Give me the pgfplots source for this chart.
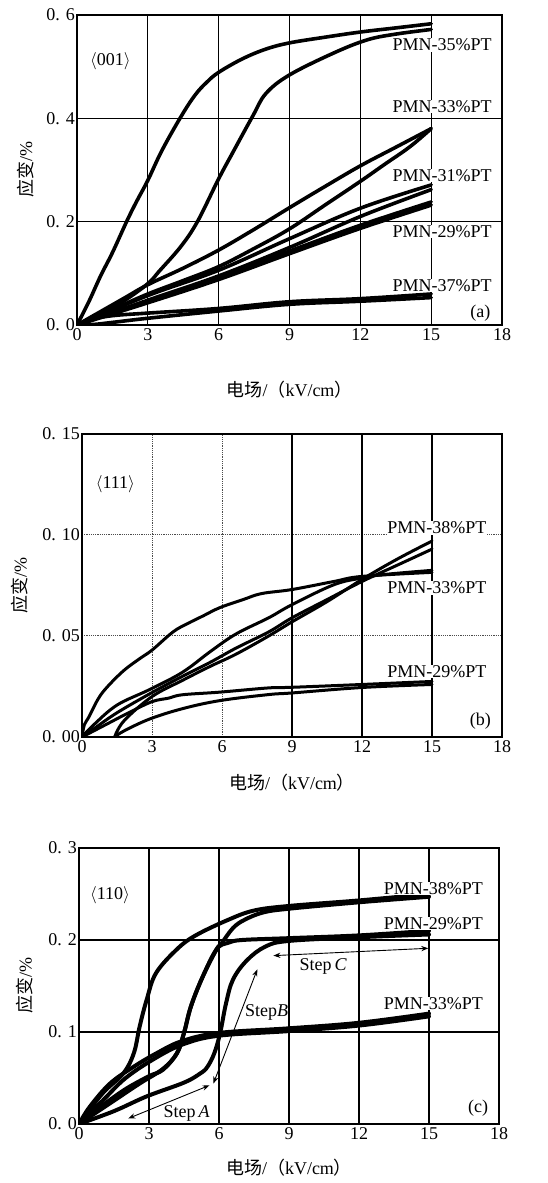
\documentclass[border=0pt]{standalone}
\usepackage{fontspec}
\setmainfont{Liberation Serif}
\newfontfamily\cjk{Noto Sans CJK SC}
\usepackage{pgfplots}
\pgfplotsset{compat=1.18}
\usetikzlibrary{arrows.meta}

\pgfplotsset{
  panel/.style={
    scale only axis,
    xmin=0, xmax=18,
    xtick={0,3,...,18}, xticklabels={0,3,6,9,12,15,18},
    axis line style={line width=1.5pt},
    major tick length=0pt,
    xmajorgrids, ymajorgrids,
    grid style={black, line width=1.2pt},
    tick label style={font=\fontsize{18}{18}\selectfont},
    xticklabel style={inner sep=1pt, yshift=-2pt},
    yticklabel style={inner sep=2pt},
    label style={font=\fontsize{18}{18}\selectfont},
    xlabel={{\cjk 电场}/{\cjk （}kV/cm{\cjk ）}},
    ylabel={{\cjk 应变}/\%},
    cycle list={{black}},
    every axis plot post/.append style={black, solid, mark=none, line width=\plotlw, line join=round, line cap=round, smooth, tension=0.6},
  },
}
\tikzset{
  lab/.style={font=\fontsize{18}{18}\selectfont, fill=white, inner sep=0.5pt},
  plain/.style={font=\fontsize{18}{18}\selectfont, inner sep=0pt},
}
\newcommand{\plotlw}{3pt}

\begin{document}
\begin{tikzpicture}
\useasboundingbox (0,0) rectangle (548pt,1183pt);

% (a) <001>
\renewcommand{\plotlw}{3.6pt}
\begin{axis}[panel,
  at={(77pt,858pt)}, anchor=south west,
  width=425pt, height=310pt,
  ymin=0, ymax=0.6,
  ytick={0,0.2,0.4,0.6}, yticklabels={0. 0,0. 2,0. 4,0. 6},
  xlabel style={at={(axis description cs:0.5,-0.21)}, anchor=center},
  ylabel style={at={(axis description cs:-0.122,0.5)}, anchor=center},
]
% PMN-35%PT
\addplot coordinates {(0,0) (0.5,0.045) (1.0,0.095) (1.5,0.14) (2.1,0.2) (2.5,0.237) (3,0.28) (3.6,0.338) (4.4,0.403) (5.0,0.445) (5.5,0.47) (6,0.489) (7,0.515) (8,0.534) (9,0.546) (10.5,0.557) (12,0.567) (13.5,0.575) (15,0.583)};
\addplot coordinates {(15,0.572) (13.5,0.563) (12.3,0.552) (10.9,0.527) (9,0.484) (8,0.448) (7.45,0.405) (6.6,0.334) (6,0.283) (5.1,0.2) (4.4,0.152) (3.5,0.105) (3,0.08) (2,0.047) (1,0.021) (0,0)};
% PMN-33%PT
\addplot coordinates {(0,0) (1,0.026) (2,0.052) (3,0.078) (4.5,0.11) (6,0.145) (7.5,0.185) (9,0.227) (10.5,0.268) (12,0.308) (13.5,0.344) (15,0.38)};
\addplot coordinates {(15,0.38) (14.1,0.345) (13,0.31) (12,0.278) (10.5,0.232) (9,0.186) (7.5,0.148) (6,0.113) (4.5,0.086) (3,0.06) (1.5,0.03) (0,0)};
% PMN-31%PT
\addplot coordinates {(0,0) (3,0.057) (6,0.106) (9,0.167) (12,0.226) (15,0.271)};
\addplot coordinates {(15,0.262) (12,0.21) (9,0.15) (6,0.095) (3,0.048) (0,0)};
% PMN-29%PT
\addplot coordinates {(0,0) (3,0.046) (6,0.092) (9,0.143) (12,0.193) (15,0.238)};
\addplot coordinates {(15,0.232) (12,0.187) (9,0.138) (6,0.088) (3,0.043) (0,0)};
% PMN-37%PT
\addplot coordinates {(0,0) (0.5,0.01) (1.5,0.018) (3,0.023) (6,0.032) (9,0.045) (12,0.051) (15,0.06)};
\addplot coordinates {(15,0.053) (12,0.046) (9,0.04) (6,0.027) (3,0.013) (1.5,0.005) (0.7,0.001) (0,0)};
\node[lab] at (axis cs:15.46,0.542) {PMN-35\%PT};
\node[lab] at (axis cs:15.46,0.423) {PMN-33\%PT};
\node[lab] at (axis cs:15.46,0.29) {PMN-31\%PT};
\node[lab] at (axis cs:15.46,0.181) {PMN-29\%PT};
\node[lab] at (axis cs:15.46,0.077) {PMN-37\%PT};
\node[plain] at (axis cs:17.08,0.0226) {(a)};
\node[plain] at (axis cs:1.41,0.51) {$\langle$001$\rangle$};
\end{axis}

% (b) <111>
\renewcommand{\plotlw}{3pt}
\begin{axis}[panel,
  at={(82pt,446pt)}, anchor=south west,
  width=420pt, height=303pt,
  ymin=0, ymax=0.15,
  ytick={0,0.05,0.1,0.15}, yticklabels={0. 00,0. 05,0. 10,0. 15},
  grid style={black!70, densely dotted, line width=1pt},
  extra x ticks={9,12,15}, extra x tick labels={},
  extra x tick style={grid style={black, solid, line width=1.2pt}},
  xlabel style={at={(axis description cs:0.5,-0.152)}, anchor=center},
  ylabel style={at={(axis description cs:-0.148,0.5)}, anchor=center},
]
% PMN-38%PT
\addplot coordinates {(1.4,0) (1.8,0.008) (3,0.02) (4.3,0.028) (5.5,0.035) (6.6,0.041) (8,0.05) (9,0.057) (10.5,0.067) (12,0.078) (13.5,0.088) (15,0.097)};
\addplot coordinates {(15,0.093) (13.5,0.085) (12,0.077) (10.5,0.068) (9,0.059) (8,0.052) (6.6,0.044) (5.5,0.037) (4.3,0.030) (3,0.022) (1.5,0.012) (0.5,0.004) (0,0)};
% PMN-33%PT
\addplot coordinates {(0,0) (0.1,0.006) (0.3,0.01) (0.7,0.019) (1.1,0.025) (1.8,0.033) (2.5,0.039) (3,0.043) (3.9,0.052) (4.5,0.056) (5.2,0.06) (5.9,0.064) (6.9,0.068) (7.7,0.071) (9,0.073) (10.8,0.077) (12,0.0795) (15,0.0815)};
\addplot coordinates {(15,0.0825) (13,0.0805) (12,0.0787) (10.8,0.0754) (9,0.0655) (8,0.059) (6.6,0.051) (5.5,0.0423) (4.3,0.032) (2.9,0.0235) (1.5,0.0158) (0.5,0.006) (0,0)};
% PMN-29%PT
\addplot coordinates {(0,0) (1,0.006) (2,0.012) (3,0.0175) (3.7,0.0192) (4.3,0.0209) (5.9,0.0222) (8,0.0243) (9,0.0246) (12,0.026) (15,0.0275)};
\addplot coordinates {(15,0.026) (12,0.0245) (9,0.0218) (8,0.021) (5.9,0.018) (4.3,0.014) (2.9,0.0089) (1.8,0.003) (1.4,0)};
\node[lab] at (axis cs:15.21,0.1035) {PMN-38\%PT};
\node[lab] at (axis cs:15.21,0.0738) {PMN-33\%PT};
\node[lab] at (axis cs:15.21,0.0325) {PMN-29\%PT};
\node[plain] at (axis cs:17.07,0.0078) {(b)};
\node[plain] at (axis cs:1.43,0.125) {$\langle$111$\rangle$};
\end{axis}

% (c) <110>
\renewcommand{\plotlw}{4pt}
\begin{axis}[panel,
  at={(79pt,59pt)}, anchor=south west,
  width=420pt, height=276pt,
  ymin=0, ymax=0.3,
  ytick={0,0.1,0.2,0.3}, yticklabels={0. 0,0. 1,0. 2,0. 3},
  xlabel style={at={(axis description cs:0.5,-0.159)}, anchor=center},
  ylabel style={at={(axis description cs:-0.129,0.5)}, anchor=center},
]
% PMN-38%PT
\addplot coordinates {(0,0) (1,0.02) (2,0.038) (3,0.052) (3.6,0.059) (4.2,0.077) (4.5,0.099) (4.8,0.128) (5.3,0.16) (5.9,0.19) (6.1,0.196) (6.6,0.213) (7.1,0.222) (7.9,0.23) (9,0.234) (12,0.241) (15,0.247)};
\addplot coordinates {(15,0.25) (12,0.243) (9,0.237) (7.5,0.232) (6.4,0.222) (5,0.205) (4.2,0.19) (3.3,0.164) (2.9,0.135) (2.6,0.106) (2.35,0.077) (1.9,0.055) (1,0.033) (0,0)};
% PMN-29%PT
\addplot coordinates {(0,0) (1.5,0.014) (2.9,0.03) (4.5,0.045) (5.2,0.055) (5.5,0.062) (5.8,0.077) (6.05,0.099) (6.3,0.131) (6.6,0.157) (7.2,0.178) (8,0.193) (9,0.199) (12,0.203) (15,0.206)};
\addplot coordinates {(15,0.21) (12,0.205) (9,0.202) (7,0.2) (6.4,0.197) (5.9,0.19) (5.3,0.16) (4.8,0.128) (4.5,0.099) (4.2,0.077) (3.6,0.06) (2.6,0.044) (1.3,0.022) (0,0)};
% PMN-33%PT
\addplot coordinates {(0,0) (0.47,0.019) (1.33,0.044) (2.33,0.062) (3.33,0.077) (4.4,0.09) (6,0.099) (9,0.104) (12,0.11) (15,0.12)};
\addplot coordinates {(15,0.117) (12,0.107) (9,0.101) (6,0.096) (4.5,0.087) (3.3,0.072) (2,0.05) (1,0.025) (0,0)};
% step arrows
\draw[line width=0.9pt, {Stealth[length=7pt]}-{Stealth[length=7pt]}] (axis cs:2.11,0.006) -- (axis cs:5.59,0.042);
\draw[line width=0.9pt, {Stealth[length=7pt]}-{Stealth[length=7pt]}] (axis cs:5.76,0.044) -- (axis cs:7.64,0.168);
\draw[line width=0.9pt, {Stealth[length=7pt]}-{Stealth[length=7pt]}] (axis cs:8.33,0.183) -- (axis cs:14.97,0.191);
\node[plain] at (axis cs:4.61,0.0116) {Step\,\textit{A}};
\node[plain] at (axis cs:8.04,0.121) {Step\textit{B}};
\node[plain] at (axis cs:10.47,0.171) {Step\,\textit{C}};
\node[lab] at (axis cs:15.19,0.256) {PMN-38\%PT};
\node[lab] at (axis cs:15.19,0.218) {PMN-29\%PT};
\node[lab] at (axis cs:15.19,0.131) {PMN-33\%PT};
\node[plain] at (axis cs:17.11,0.017) {(c)};
\node[plain] at (axis cs:1.33,0.249) {$\langle$110$\rangle$};
\end{axis}
\end{tikzpicture}
\end{document}
